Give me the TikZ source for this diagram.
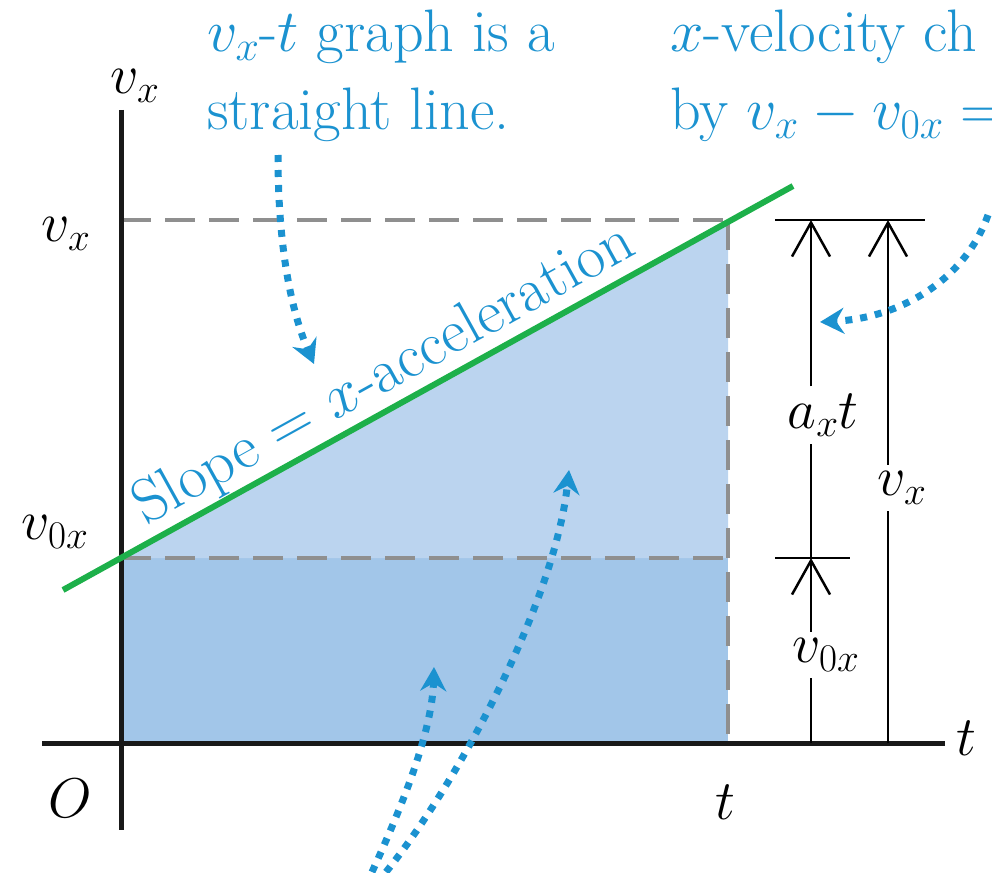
\RequirePackage{fix-cm}
\documentclass[tikz,border=0pt]{standalone}
\usepackage{fontspec}
\usetikzlibrary{arrows.meta,positioning}

\definecolor{notes}{RGB}{27,146,208}
\definecolor{slopegreen}{RGB}{29,176,74}
\definecolor{areahi}{RGB}{187,212,239}
\definecolor{arealo}{RGB}{162,198,233}
\definecolor{guide}{RGB}{143,143,143}

\begin{document}
\begin{tikzpicture}[x=1pt,y=-1pt,font=\fontsize{56}{76}\selectfont,
  caption/.style={notes,align=left,inner sep=0pt,font=\fontsize{60}{78}\selectfont},
  cue/.style={notes,line width=7pt,dash pattern=on 7pt off 8pt,
    -{Stealth[length=24pt,width=26pt,inset=8pt]}},
  dimline/.style={line width=2.5pt},
  dimarrow/.style={dimline,-{Straight Barb[length=34pt,width=38pt,line width=2.5pt]}},
  dimlabel/.style={inner sep=7pt},
  guideline/.style={guide,line width=4pt,dash pattern=on 30pt off 14pt}]
% pixel grid of the reference, y counted downwards
\useasboundingbox (0,0) rectangle (992,872);
\def\xO{121}\def\yO{743}
\def\yv{220}\def\yvz{558}\def\xt{728}

% the two areas under the line
\fill[arealo] (\xO,\yvz) rectangle (\xt,\yO);
\fill[areahi] (\xO,\yvz) -- (\xt,\yv) -- (\xt,\yvz) -- cycle;

% guides to the axes
\draw[guideline] (\xO,\yv) -- (\xt,\yv);
\draw[guideline] (\xO,\yvz) -- (\xt,\yvz);
\draw[guideline] (\xt,\yv) -- (\xt,\yO);

% axes
\draw[line width=5pt,black!90] (42,\yO) -- (945,\yO);
\draw[line width=5pt,black!90] (\xO,110) -- (\xO,830);
\node (axv) at (135,86) {\(v_x\)};
\node (axt) at (966,738) {\(t\)};
\node (orig) at (70,798) {\(O\)};
\node (tend) at (725,802) {\(t\)};
\node (lvx) at (66,234) {\(v_x\)};
\node (lvzx) at (55,532) {\(v_{0x}\)};

% the straight line and its slope
\coordinate (gs) at (63,590);
\coordinate (ge) at (793,186);
\draw[slopegreen,line width=6pt] (gs) -- (ge);
\node[notes,rotate=29,anchor=south,inner sep=2pt,font=\fontsize{62}{70}\selectfont]
  (slope) at (399,402) {Slope = \(x\)-acceleration};

% dimension bars on the right
\coordinate (d0) at (811,\yO);  \coordinate (d1) at (811,\yvz);
\coordinate (d2) at (811,\yv);  \coordinate (e0) at (888,\yO);
\coordinate (e2) at (888,\yv);
\draw[dimline] (775,\yv) -- (925,\yv);
\draw[dimline] (775,\yvz) -- (850,\yvz);
\node[dimlabel] (axtl) at (823,415) {\(a_xt\)};
\node[dimlabel] (vzxl) at (826,655) {\(v_{0x}\)};
\node[dimlabel] (vxl) at (902,488) {\(v_x\)};
\draw[dimline] (d0) -- (d0 |- vzxl.south);
\draw[dimarrow] (d0 |- vzxl.north) -- (d1);
\draw[dimline] (d1) -- (d1 |- axtl.south);
\draw[dimarrow] (d1 |- axtl.north) -- (d2);
\draw[dimline] (e0) -- (e0 |- vxl.south);
\draw[dimarrow] (e0 |- vxl.north) -- (e2);

% captions, the right one runs off the page
\node[caption,anchor=north west] (linecap) at (207,10)
  {\(v_x\)-\(t\) graph is a\\straight line.};
\node[caption,anchor=north west] (velcap) at (670,10)
  {\(x\)-velocity ch\\by \(v_x - v_{0x} =\)};

% dotted pointers
\coordinate (pa) at (278,155);  \coordinate (ta) at (314,364);
\coordinate (pb) at (988,215);  \coordinate (tb) at (820,322);
\coordinate (pc) at (372,872);  \coordinate (tc) at (434,667);
\coordinate (pd) at (386,872);  \coordinate (td) at (569,470);
\draw[cue] (pa) .. controls (278,260) and (295,320) .. (ta);
\draw[cue] (pb) .. controls (965,280) and (900,318) .. (tb);
\draw[cue] (pc) .. controls (405,800) and (432,730) .. (tc);
\draw[cue] (pd) .. controls (460,780) and (555,600) .. (td);
\end{tikzpicture}
\end{document}
